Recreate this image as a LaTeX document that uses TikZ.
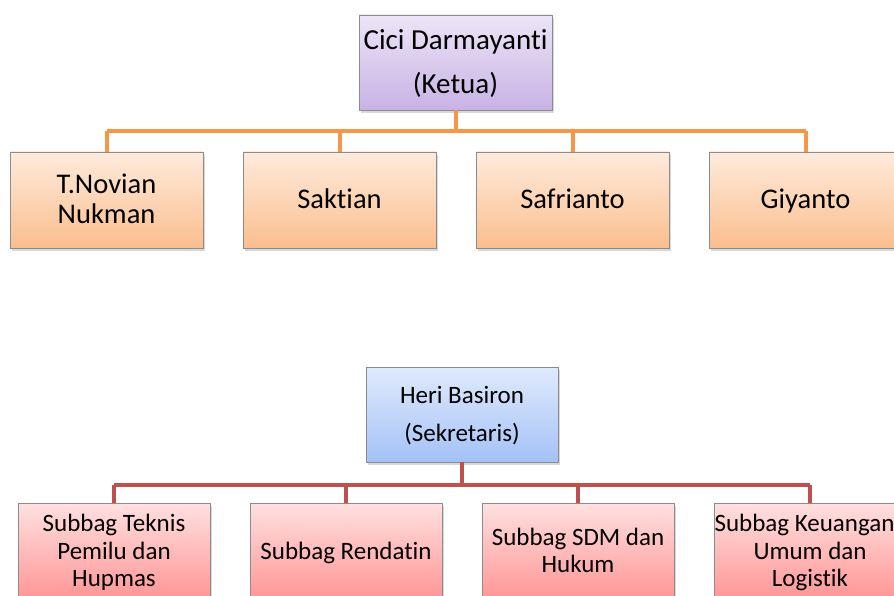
\documentclass[tikz,border=0pt]{standalone}
\usepackage{fontspec}
\setmainfont{Carlito}[Ligatures={NoCommon}]
\usetikzlibrary{shadows}
\definecolor{lineor}{HTML}{F79646}
\definecolor{linered}{HTML}{C0504D}
\definecolor{boxedge}{HTML}{8C8C8C}
\newcommand\tops{\rule{0pt}{\dimexpr0.66em+4pt\relax}}
\newcommand\bots{\vphantom{g}}
\tikzset{
  box/.style={draw=boxedge, line width=0.8pt, align=center, inner sep=2pt,
    drop shadow={opacity=0.3, shadow xshift=2pt, shadow yshift=-3pt}},
  headbox/.style={box, minimum width=193pt, minimum height=95pt, top color={rgb,255:red,237;green,229;blue,247}, bottom color={rgb,255:red,200;green,178;blue,228},
    font=\fontsize{29}{44}\selectfont},
  memberbox/.style={box, minimum width=193pt, minimum height=96pt, top color={rgb,255:red,254;green,235;blue,220}, bottom color={rgb,255:red,251;green,190;blue,142},
    font=\fontsize{28.5}{30}\selectfont},
  secbox/.style={box, minimum width=192pt, minimum height=95pt, top color={rgb,255:red,224;green,234;blue,252}, bottom color={rgb,255:red,164;green,194;blue,247},
    font=\fontsize{25}{38}\selectfont},
  subbox/.style={box, minimum width=192pt, minimum height=96pt, top color={rgb,255:red,255;green,224;blue,224}, bottom color={rgb,255:red,255;green,150;blue,150},
    font=\fontsize{25}{27.5}\selectfont},
  orline/.style={draw=lineor, line width=4pt},
  redline/.style={draw=linered, line width=4pt},
}
\begin{document}
\begin{tikzpicture}[x=1pt,y=-1pt]
\useasboundingbox (0,0) rectangle (894,596);
\clip (0,0) rectangle (894,596);
\fill[white] (0,0) rectangle (894,596);
% nodes
\node[headbox] (ketua) at (455.5,62.5) {\tops Cici Darmayanti\\(Ketua)\bots};
\node[memberbox] (m1) at (106.5,200) {\tops T.Novian\\Nukman\bots};
\node[memberbox] (m2) at (339.5,200) {\tops Saktian\bots};
\node[memberbox] (m3) at (572.5,200) {\tops Safrianto\bots};
\node[memberbox] (m4) at (805.5,200) {\tops Giyanto\bots};
\node[secbox] (sek) at (462,414.5) {\tops Heri Basiron\\(Sekretaris)\bots};
\node[subbox] (s1) at (114,551) {\tops Subbag Teknis\\Pemilu dan\\Hupmas\bots};
\node[subbox] (s2) at (346,551) {\tops Subbag Rendatin\bots};
\node[subbox] (s3) at (578,551) {\tops Subbag SDM dan\\Hukum\bots};
\node[subbox] (s4) at (810,551) {\tops\hspace*{-11pt}Subbag Keuangan\\Umum dan\\Logistik\bots};
% junctions
\coordinate (j1) at (455.5,131);
\coordinate (j2) at (462,485);
% connectors
\path[orline] (ketua.south) -- (j1);
\path[orline] (m1.north |- j1) -- (m4.north |- j1);
\foreach \n in {m1,m2,m3,m4} \path[orline] (\n.north |- j1) -- (\n.north);
\path[redline] (sek.south) -- (j2);
\path[redline] (s1.north |- j2) -- (s4.north |- j2);
\foreach \n in {s1,s2,s3,s4} \path[redline] (\n.north |- j2) -- (\n.north);
\end{tikzpicture}
\end{document}
